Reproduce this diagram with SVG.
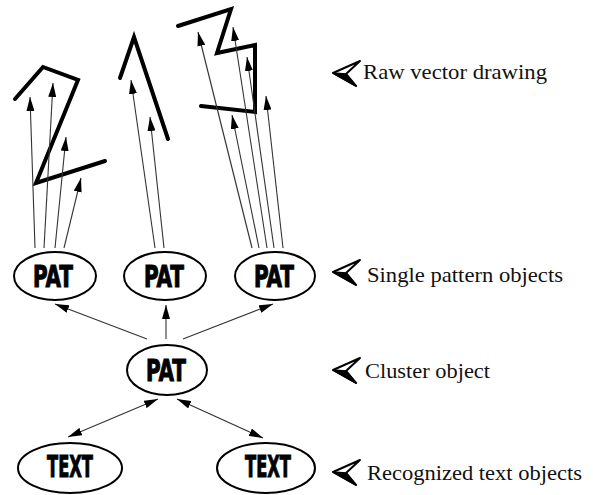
<svg xmlns="http://www.w3.org/2000/svg" width="593" height="495" viewBox="0 0 593 495">
<style>
.thick{fill:none;stroke:#000;stroke-width:4;stroke-linejoin:miter;stroke-linecap:round}
.con{fill:none;stroke:#333;stroke-width:1.1}
.node ellipse{fill:#fff;stroke:#000;stroke-width:2}
.node text{font-family:"DejaVu Sans Condensed","DejaVu Sans",sans-serif;font-weight:bold;font-size:30px;text-anchor:middle;fill:#000;stroke:#000;stroke-width:1}
.lbl{font-family:"Liberation Serif","Times New Roman",serif;font-size:22px;fill:#111}
</style>
<defs>
<marker id="ah" markerUnits="userSpaceOnUse" markerWidth="14" markerHeight="8" refX="14" refY="4" orient="auto-start-reverse" viewBox="0 0 14 8">
<path d="M0,0 L14,4 L0,8 z" fill="#000"/>
</marker>
<g id="ptr">
<path d="M0,0 L27,-12 L13,1 L23,13 z" fill="#fff" stroke="#000" stroke-width="2" stroke-linejoin="round"/>
<path d="M0,0 L13,1 L23,13 z" fill="#000" stroke="#000" stroke-width="1.5" stroke-linejoin="round"/>
</g>
</defs>

<g id="drawing">
<polyline class="thick" points="15,99 43,67 78,80 36,183 105,161"/>
<polyline class="thick" points="120,78 134,37 168,139"/>
<polyline class="thick" points="178,26 231,9 217,53 255,45 255,112 201,106"/>
</g>

<g id="connectors">
<line class="con" x1="35" y1="248" x2="30" y2="97" marker-end="url(#ah)"/>
<line class="con" x1="44" y1="248" x2="53" y2="83" marker-end="url(#ah)"/>
<line class="con" x1="55" y1="248" x2="66" y2="137" marker-end="url(#ah)"/>
<line class="con" x1="64" y1="248" x2="81" y2="178" marker-end="url(#ah)"/>
<line class="con" x1="155" y1="248" x2="131" y2="80" marker-end="url(#ah)"/>
<line class="con" x1="164" y1="248" x2="150" y2="117" marker-end="url(#ah)"/>
<line class="con" x1="252" y1="248" x2="198" y2="32" marker-end="url(#ah)"/>
<line class="con" x1="259" y1="248" x2="232" y2="115" marker-end="url(#ah)"/>
<line class="con" x1="267" y1="248" x2="233" y2="27" marker-end="url(#ah)"/>
<line class="con" x1="274" y1="248" x2="247" y2="57" marker-end="url(#ah)"/>
<line class="con" x1="283" y1="248" x2="266" y2="96" marker-end="url(#ah)"/>
<line class="con" x1="147" y1="339" x2="55" y2="304" marker-end="url(#ah)"/>
<line class="con" x1="166" y1="339" x2="166" y2="305" marker-end="url(#ah)"/>
<line class="con" x1="183" y1="339" x2="273" y2="304" marker-end="url(#ah)"/>
<line class="con" x1="68" y1="437" x2="158" y2="399" marker-start="url(#ah)" marker-end="url(#ah)"/>
<line class="con" x1="177" y1="399" x2="263" y2="438" marker-start="url(#ah)" marker-end="url(#ah)"/>
</g>

<g id="pat1" class="node"><ellipse cx="55" cy="276" rx="41" ry="24"/><text x="53" y="287" textLength="40" lengthAdjust="spacingAndGlyphs">PAT</text></g>
<g id="pat2" class="node"><ellipse cx="165" cy="276" rx="41" ry="24"/><text x="164" y="287" textLength="40" lengthAdjust="spacingAndGlyphs">PAT</text></g>
<g id="pat3" class="node"><ellipse cx="275" cy="276" rx="40" ry="24"/><text x="274" y="287" textLength="40" lengthAdjust="spacingAndGlyphs">PAT</text></g>
<g id="cluster" class="node"><ellipse cx="167" cy="370" rx="40" ry="25"/><text x="166" y="381" textLength="40" lengthAdjust="spacingAndGlyphs">PAT</text></g>
<g id="text1" class="node"><ellipse cx="70" cy="468" rx="52" ry="25"/><text x="70" y="477" textLength="46" lengthAdjust="spacingAndGlyphs">TEXT</text></g>
<g id="text2" class="node"><ellipse cx="266" cy="468" rx="49" ry="25"/><text x="268" y="477" textLength="46" lengthAdjust="spacingAndGlyphs">TEXT</text></g>

<g id="labels">
<use href="#ptr" x="333" y="73"/>
<text class="lbl" x="363" y="79" textLength="184" lengthAdjust="spacingAndGlyphs">Raw vector drawing</text>
<use href="#ptr" x="333" y="272"/>
<text class="lbl" x="367" y="282" textLength="196" lengthAdjust="spacingAndGlyphs">Single pattern objects</text>
<use href="#ptr" x="333" y="370"/>
<text class="lbl" x="365" y="378" textLength="125" lengthAdjust="spacingAndGlyphs">Cluster object</text>
<use href="#ptr" x="333" y="472"/>
<text class="lbl" x="367" y="480" textLength="215" lengthAdjust="spacingAndGlyphs">Recognized text objects</text>
</g>
</svg>
